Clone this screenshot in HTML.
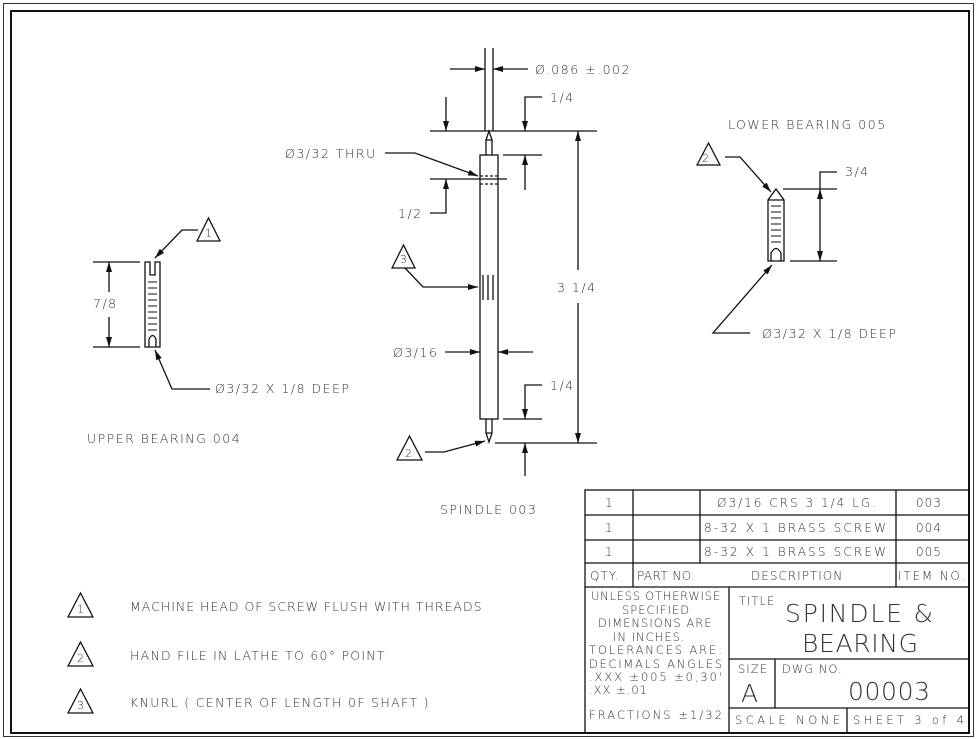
<!DOCTYPE html>
<html><head><meta charset="utf-8"><style>
html,body{margin:0;padding:0;background:#fff}
svg{display:block}
text{font-family:"DejaVu Sans","Liberation Sans",sans-serif;fill:#333;font-weight:200}
</style></head><body>
<svg width="977" height="739" viewBox="0 0 977 739" xmlns="http://www.w3.org/2000/svg">
<defs>
<marker id="a" viewBox="0 0 10 6" refX="10" refY="3" markerWidth="10" markerHeight="6" markerUnits="userSpaceOnUse" orient="auto"><path d="M0,0 L10,3 L0,6z" fill="#111"/></marker>
</defs>
<rect x="3.5" y="3.5" width="970" height="733" fill="none" stroke="#333" stroke-width="1"/>
<rect x="11" y="11" width="958" height="722" fill="none" stroke="#111" stroke-width="2"/>
<g stroke="#111" stroke-width="1.3" fill="none">
<line x1="485" y1="48" x2="485" y2="131"/><line x1="493" y1="48" x2="493" y2="131"/>
<path d="M486,140 L489,131 L492,140 Z"/>
<path d="M486,140 L486,155 M492,140 L492,155"/>
<rect x="480" y="155" width="18" height="264"/>
<path d="M486,419 L486,433 L489,442 L492,433 L492,419 M486,433 L492,433"/>
<path d="M480,176 L498,176 M480,184 L498,184" stroke-dasharray="3,2"/>
<path d="M483,275 V300 M488,275 V300 M493,275 V300"/>
<line x1="450" y1="69" x2="485" y2="69" marker-end="url(#a)"/>
<line x1="528" y1="69" x2="493" y2="69" marker-end="url(#a)"/>
<line x1="430" y1="131" x2="597" y2="131"/>
<line x1="446" y1="97" x2="446" y2="131" marker-end="url(#a)"/>
<path d="M542,97 H525 V131" marker-end="url(#a)"/>
<line x1="503" y1="155" x2="542" y2="155"/>
<line x1="525" y1="190" x2="525" y2="155" marker-end="url(#a)"/>
<line x1="430" y1="179" x2="507" y2="179"/>
<path d="M430,213 H446 V179" marker-end="url(#a)"/>
<line x1="578" y1="270" x2="578" y2="131" marker-end="url(#a)"/>
<line x1="578" y1="303" x2="578" y2="443" marker-end="url(#a)"/>
<line x1="495" y1="443" x2="597" y2="443"/>
<line x1="503" y1="419" x2="542" y2="419"/>
<path d="M542,385 H525 V419" marker-end="url(#a)"/>
<line x1="525" y1="476" x2="525" y2="443" marker-end="url(#a)"/>
<path d="M385,153 H415 L478,176" marker-end="url(#a)"/>
<path d="M405,268 L423,287 H478" marker-end="url(#a)"/>
<line x1="445" y1="352" x2="480" y2="352" marker-end="url(#a)"/>
<line x1="533" y1="352" x2="498" y2="352" marker-end="url(#a)"/>
<path d="M425,452 H444 L485,441" marker-end="url(#a)"/>
<path d="M392,268 L403.5,245 L415,268 Z"/>
<path d="M397,460 L409.5,436 L422,460 Z"/>
<path d="M145,262 V347 H160 V262 H155 V275 H150 V262 Z"/>
<path d="M149,347 V339 Q152.5,332 156,339 V347"/>
<g stroke-width="1">
<path d="M148,282h9M148,288h9M148,294h9M148,300h9M148,306h9M148,312h9M148,318h9M148,324h9M148,330h9"/>
</g>
<line x1="93" y1="262" x2="140" y2="262"/><line x1="93" y1="347" x2="140" y2="347"/>
<line x1="109" y1="292" x2="109" y2="262" marker-end="url(#a)"/>
<line x1="109" y1="317" x2="109" y2="347" marker-end="url(#a)"/>
<path d="M198,230 H182 L155,258" marker-end="url(#a)"/>
<path d="M197,241 L208.5,218 L220,241 Z"/>
<path d="M210,389 H172 L155,350" marker-end="url(#a)"/>
<path d="M768,261 V200 L776,189 L784,200 V261 Z M768,200 H784"/>
<path d="M771,261 V253 Q776,244 781,253 V261"/>
<g stroke-width="1">
<path d="M771,206h10M771,212h10M771,218h10M771,224h10M771,230h10M771,236h10M771,242h10"/>
</g>
<line x1="783" y1="189" x2="837" y2="189"/><line x1="790" y1="261" x2="837" y2="261"/>
<path d="M837,172 H820 V189"/>
<line x1="820" y1="225" x2="820" y2="189" marker-end="url(#a)"/>
<line x1="820" y1="225" x2="820" y2="261" marker-end="url(#a)"/>
<path d="M725,157 H740 L771,192" marker-end="url(#a)"/>
<path d="M697,165 L708.5,143 L720,165 Z"/>
<path d="M750,333 H713 L772,265" marker-end="url(#a)"/>
<path d="M68,617 L80.5,593 L93,617 Z"/>
<path d="M68,666 L80.5,642 L93,666 Z"/>
<path d="M68,713 L80.5,689 L93,713 Z"/>
<rect x="585" y="490" width="384" height="243"/>
<path d="M585,515 H969 M585,540 H969 M585,563 H969 M585,587 H969"/>
<path d="M633,490 V587 M700,490 V563 M896,490 V587"/>
<path d="M729,587 V733 M729,659 H969 M729,708 H969 M775,659 V708 M847,708 V733"/>
</g>
<g font-size="12.5" letter-spacing="1.5">
<text x="535" y="74">Ø.086 ±.002</text>
<text x="550" y="102">1/4</text>
<text x="285" y="158">Ø3/32 THRU</text>
<text x="398" y="218">1/2</text>
<text x="557" y="292">3 1/4</text>
<text x="393" y="357">Ø3/16</text>
<text x="550" y="390">1/4</text>
<text x="440" y="514">SPINDLE 003</text>
<text x="93" y="308">7/8</text>
<text x="215" y="393">Ø3/32 X 1/8 DEEP</text>
<text x="87" y="443">UPPER BEARING 004</text>
<text x="728" y="129">LOWER BEARING 005</text>
<text x="845" y="176">3/4</text>
<text x="762" y="338">Ø3/32 X 1/8 DEEP</text>
<text x="130" y="611" textLength="353">MACHINE HEAD OF SCREW FLUSH WITH THREADS</text>
<text x="130" y="660" textLength="256">HAND FILE IN LATHE TO 60° POINT</text>
<text x="130" y="707" textLength="300">KNURL ( CENTER OF LENGTH 0F SHAFT )</text>
</g>
<g font-size="11">
<text x="400" y="263">3</text><text x="405" y="457">2</text>
<text x="205" y="237">1</text><text x="702" y="162">2</text>
<text x="77" y="613">1</text><text x="77" y="662">2</text><text x="77" y="709">3</text>
</g>
<g font-size="12" letter-spacing="1">
<text x="605" y="507">1</text><text x="605" y="532">1</text><text x="605" y="556">1</text>
<text x="717" y="507" textLength="160">Ø3/16 CRS 3 1/4 LG.</text>
<text x="704" y="532" textLength="183">8-32 X 1 BRASS SCREW</text>
<text x="704" y="556" textLength="183">8-32 X 1 BRASS SCREW</text>
<text x="916" y="507">003</text><text x="916" y="532">004</text><text x="916" y="556">005</text>
<text x="590" y="580">QTY.</text><text x="637" y="580" textLength="59">PART NO.</text>
<text x="751" y="580">DESCRIPTION</text><text x="898" y="580" textLength="68">ITEM NO.</text>
<g font-size="11.5">
<text x="591" y="600" textLength="130">UNLESS OTHERWISE</text>
<text x="622" y="614">SPECIFIED</text>
<text x="598" y="627">DIMENSIONS ARE</text>
<text x="613" y="641">IN INCHES.</text>
<text x="589" y="654" textLength="134">TOLERANCES ARE:</text>
<text x="589" y="668" textLength="134">DECIMALS ANGLES</text>
<text x="589" y="681" textLength="134">.XXX ±005   ±0,30'</text>
<text x="589" y="694">.XX ±.01</text>
<text x="589" y="719" textLength="134">FRACTIONS ±1/32</text>
<text x="739" y="605">TITLE</text>
<text x="738" y="673">SIZE</text>
<text x="782" y="673">DWG NO.</text>
<text x="735" y="724" textLength="106">SCALE   NONE</text>
<text x="853" y="724" textLength="112">SHEET 3 of 4</text>
</g>
</g>
<g font-size="25" letter-spacing="2">
<text x="785" y="622" textLength="150">SPINDLE &amp;</text>
<text x="802" y="652" textLength="118">BEARING</text>
<text x="741" y="702">A</text>
<text x="848" y="700" textLength="84">00003</text>
</g>
</svg>
</body></html>
